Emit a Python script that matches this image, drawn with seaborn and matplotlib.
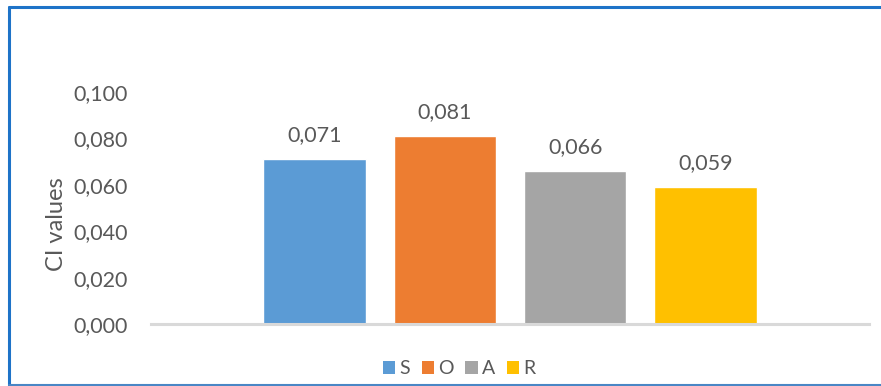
import matplotlib
matplotlib.use("Agg")
import matplotlib.pyplot as plt
from matplotlib.patches import Patch
from matplotlib.lines import Line2D
from matplotlib.ticker import FuncFormatter, MultipleLocator
import seaborn as sns
import pandas as pd

# CI values for each SOAR component
categories = ["S", "O", "A", "R"]
ci_values = [0.071, 0.081, 0.066, 0.059]
bar_colors = ["#5B9BD5", "#ED7D31", "#A5A5A5", "#FFC000"]
y_label = "CI values"

sns.set_theme(style="white")
plt.rcParams["font.family"] = ["Lato", "DejaVu Sans"]

TEXT = "#595959"
W, H = 881, 386
fig = plt.figure(figsize=(W / 100, H / 100), dpi=100)
ax = fig.add_axes([151 / W, (H - 324) / H, (869 - 151) / W, (324 - 92) / H])

df = pd.DataFrame({"cat": categories, "val": ci_values})
sns.barplot(data=df, x="cat", y="val", hue="cat", palette=bar_colors,
            width=0.786, saturation=1, legend=False, ax=ax)

ax.set_xlim(-1.255, 4.255)
ax.set_ylim(0, 0.1)
ax.yaxis.set_major_locator(MultipleLocator(0.02))
comma = lambda v, _=None: f"{v:.3f}".replace(".", ",")
ax.yaxis.set_major_formatter(FuncFormatter(comma))
ax.tick_params(axis="y", length=0, pad=16.5, labelsize=15.5, labelcolor=TEXT)
ax.set_xticks([])
ax.set_xlabel("")
ax.set_ylabel(y_label, fontsize=17, color=TEXT)
ax.yaxis.set_label_coords(-0.117, (H - 224 - (H - 324)) / (324 - 92))

for s in ["top", "right", "left"]:
    ax.spines[s].set_visible(False)
ax.spines["bottom"].set_color("#D9D9D9")
ax.spines["bottom"].set_linewidth(2.2)

# value labels above bars
for i, v in enumerate(ci_values):
    ax.annotate(comma(v), (i, v), xytext=(0, 10), textcoords="offset points",
                ha="center", va="bottom", fontsize=15.5, color=TEXT,
                annotation_clip=False)

handles = [Patch(facecolor=c, edgecolor="none") for c in bar_colors]
fig.legend(handles, categories, loc="center", bbox_to_anchor=(459 / W, (H - 369) / H),
           ncol=4, frameon=False, fontsize=14, labelcolor=TEXT,
           handlelength=0.65, handleheight=0.65, handletextpad=0.2, columnspacing=0.6)

# chart frame
fr = "#1E73C8"
fig.add_artist(Line2D([9 / W, 1.0], [(H - 7) / H] * 2, color=fr, lw=2.2))
fig.add_artist(Line2D([9 / W] * 2, [(H - 7) / H, (H - 385) / H], color=fr, lw=2.2))
fig.add_artist(Line2D([9 / W, 1.0], [(H - 385) / H] * 2, color="#4A86C5", lw=1.5))

fig.savefig("out.png", dpi=100, facecolor="white")
